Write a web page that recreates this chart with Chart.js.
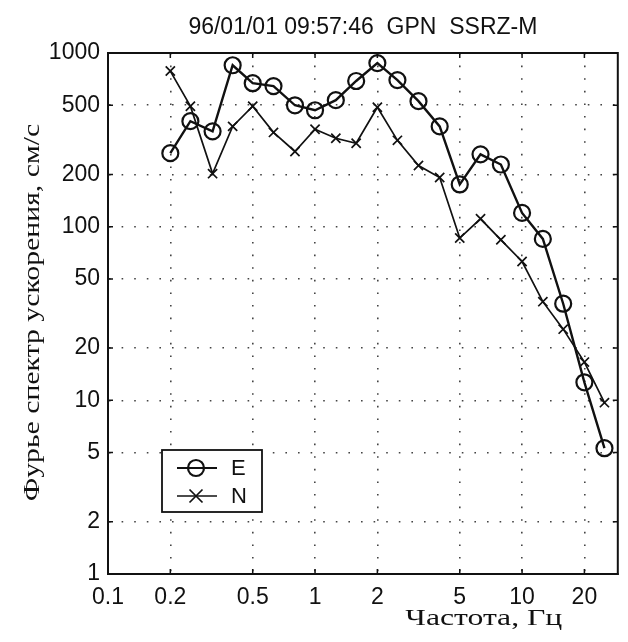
<!DOCTYPE html>
<html><head><meta charset="utf-8">
<script src="https://cdn.jsdelivr.net/npm/chart.js@4/dist/chart.umd.min.js"></script>
<style>html,body{margin:0;padding:0;background:#fff}canvas{display:block}</style>
</head><body>
<canvas id="c" width="628" height="642"></canvas>
<script>
const frequencies = [0.2, 0.25, 0.32, 0.4, 0.5, 0.63, 0.8, 1.0, 1.26, 1.58, 2.0, 2.5, 3.16, 4.0, 5.0, 6.3, 7.9, 10, 12.6, 15.8, 20, 25];
const seriesE = [265, 405, 354, 850, 670, 645, 500, 468, 535, 690, 875, 698, 528, 378, 175, 261, 228, 120, 85, 36, 12.7, 5.3];
const seriesN = [787, 494, 202, 378, 494, 349, 271, 364, 323, 302, 487, 314, 225, 192, 86, 111, 84, 63, 37, 25.7, 16.6, 9.7];
const xTickValues = [0.1, 0.2, 0.5, 1, 2, 5, 10, 20];
const yTickValues = [1, 2, 5, 10, 20, 50, 100, 200, 500, 1000];
const seriesNames = ['E', 'N'];
const titleText = '96/01/01 09:57:46  GPN  SSRZ-M';
const xTitleText = 'Частота, Гц';
const yTitleText = 'Фурье спектр ускорения, см/с';

const ink = '#111';
const sansFont = '"Liberation Sans", Arial, Helvetica, sans-serif';
const serifFont = '"Liberation Serif", "Times New Roman", serif';

function drawMarker(ctx, style, x, y) {
  ctx.beginPath();
  if (style === 'circle') {
    ctx.lineWidth = 2.2;
    ctx.arc(x, y, 8, 0, Math.PI * 2);
  } else {
    ctx.lineWidth = 1.7;
    const r = 6.5;
    ctx.moveTo(x - r, y - r); ctx.lineTo(x + r, y + r);
    ctx.moveTo(x + r, y - r); ctx.lineTo(x - r, y + r);
  }
  ctx.stroke();
}

const overlay = {
  id: 'overlay',
  afterDraw(chart) {
    const {ctx, chartArea: a, scales} = chart;
    ctx.save();
    ctx.strokeStyle = ink;
    // inner tick marks
    ctx.lineWidth = 1.5;
    ctx.beginPath();
    xTickValues.forEach(v => {
      const px = scales.x.getPixelForValue(v);
      ctx.moveTo(px, a.top); ctx.lineTo(px, a.top + 5);
      ctx.moveTo(px, a.bottom); ctx.lineTo(px, a.bottom - 5);
    });
    yTickValues.forEach(v => {
      const py = scales.y.getPixelForValue(v);
      ctx.moveTo(a.left, py); ctx.lineTo(a.left + 5, py);
      ctx.moveTo(a.right, py); ctx.lineTo(a.right - 5, py);
    });
    ctx.stroke();
    // frame
    ctx.lineWidth = 2;
    ctx.strokeRect(a.left, a.top, a.right - a.left, a.bottom - a.top);

    // title
    ctx.fillStyle = ink;
    ctx.font = '23px ' + sansFont;
    ctx.textAlign = 'center';
    ctx.textBaseline = 'alphabetic';
    ctx.fillText(titleText, (a.left + a.right) / 2, a.top - 19);

    // x title (slightly widened serif)
    ctx.save();
    ctx.translate(a.right - 134, a.bottom + 51);
    ctx.scale(1.32, 1);
    ctx.font = '24px ' + serifFont;
    ctx.fillText(xTitleText, 0, 0);
    ctx.restore();

    // y title
    ctx.save();
    ctx.translate(a.left - 69, (a.top + a.bottom) / 2 - 1);
    ctx.rotate(-Math.PI / 2);
    ctx.scale(1.24, 1);
    ctx.font = '24px ' + serifFont;
    ctx.fillText(yTitleText, 0, 0);
    ctx.restore();

    // legend
    const bx = a.left + 54, by = a.bottom - 124, bw = 100, bh = 62;
    ctx.fillStyle = '#fff';
    ctx.fillRect(bx, by, bw, bh);
    ctx.lineWidth = 1.8;
    ctx.strokeRect(bx, by, bw, bh);
    const styles = ['circle', 'crossRot'];
    seriesNames.forEach((name, i) => {
      const ly = by + 18 + i * 28;
      ctx.lineWidth = i === 0 ? 2.2 : 1.7;
      ctx.beginPath();
      ctx.moveTo(bx + 15, ly); ctx.lineTo(bx + 55, ly);
      ctx.stroke();
      drawMarker(ctx, styles[i], bx + 34, ly);
      ctx.fillStyle = ink;
      ctx.font = '22px ' + sansFont;
      ctx.textAlign = 'left';
      ctx.textBaseline = 'middle';
      ctx.fillText(name, bx + 69, ly + 1);
    });
    ctx.restore();
  }
};

const chart = new Chart(document.getElementById('c'), {
  type: 'line',
  data: {
    datasets: [
      {
        label: seriesNames[0],
        data: frequencies.map((f, i) => ({x: f, y: seriesE[i]})),
        borderColor: ink, borderWidth: 2.4,
        pointStyle: 'circle', pointRadius: 8, pointBorderWidth: 2.2,
        pointBorderColor: ink, pointBackgroundColor: 'rgba(0,0,0,0)',
        tension: 0, fill: false
      },
      {
        label: seriesNames[1],
        data: frequencies.map((f, i) => ({x: f, y: seriesN[i]})),
        borderColor: ink, borderWidth: 1.7,
        pointStyle: 'crossRot', pointRadius: 6.5, pointBorderWidth: 1.7,
        pointBorderColor: ink, pointBackgroundColor: 'rgba(0,0,0,0)',
        tension: 0, fill: false
      }
    ]
  },
  options: {
    responsive: false,
    animation: false,
    devicePixelRatio: 1,
    layout: {padding: {top: 53, right: 3, left: 0, bottom: 0}},
    plugins: {legend: {display: false}, title: {display: false}, tooltip: {enabled: false}},
    scales: {
      x: {
        type: 'logarithmic', min: 0.1, max: 29,
        afterBuildTicks: s => { s.ticks = xTickValues.map(v => ({value: v})); },
        afterFit: s => { s.height = 68; },
        ticks: {
          autoSkip: false, maxRotation: 0, padding: 10, color: ink,
          font: {family: sansFont, size: 23},
          callback: v => String(v)
        },
        grid: {color: '#444', lineWidth: 1.6, drawTicks: false},
        border: {display: true, color: ink, width: 2, dash: [1.6, 11]}
      },
      y: {
        type: 'logarithmic', min: 1, max: 1000,
        afterBuildTicks: s => { s.ticks = yTickValues.map(v => ({value: v})); },
        afterFit: s => { s.width = 108; },
        ticks: {
          autoSkip: false, padding: 8, color: ink,
          font: {family: sansFont, size: 23},
          callback: v => String(v)
        },
        grid: {color: '#444', lineWidth: 1.6, drawTicks: false},
        border: {display: true, color: ink, width: 2, dash: [1.6, 11]}
      }
    }
  },
  plugins: [overlay]
});
</script>
</body></html>
